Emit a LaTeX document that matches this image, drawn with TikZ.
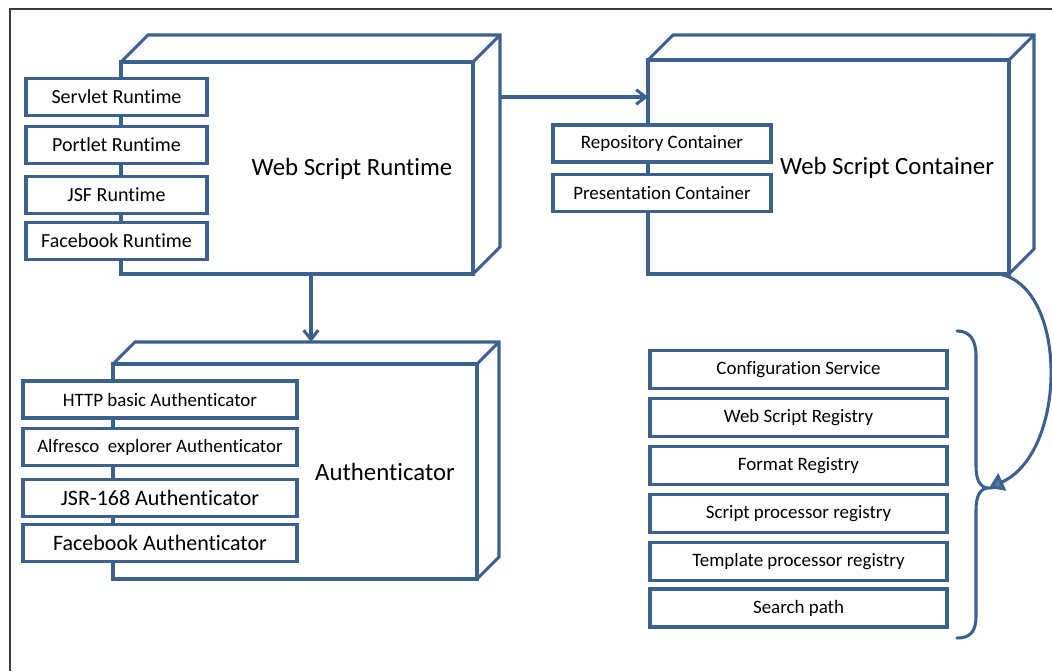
\documentclass[tikz,border=0pt]{standalone}
\usepackage{fontspec}
\setmainfont{Carlito}[RawFeature={-liga;-clig;-calt}]
\usetikzlibrary{arrows.meta}
\definecolor{boxblue}{RGB}{60,97,143}
\definecolor{framegray}{RGB}{60,60,60}
\newcommand\cubebox[6]{% name, x1, y1, x2, y2, depth
  \draw[ln,fill=white] (#2,#3) -- (#2+#6,#3-#6) -- (#4+#6,#3-#6) -- (#4+#6,#5-#6) -- (#4,#5) -- cycle;
  \draw[ln] (#4,#3) -- (#4+#6,#3-#6);
  \node[front,minimum width={(#4-#2)*0.75pt},minimum height={(#5-#3)*0.75pt}] (#1) at ({(#2+#4)/2},{(#3+#5)/2}) {};
}
\begin{document}
\begin{tikzpicture}[x=0.75pt,y=-0.75pt,
  ln/.style={draw=boxblue,line width=2.3pt,line join=miter},
  front/.style={ln,fill=white,inner sep=0pt,outer sep=0pt},
  item/.style={ln,fill=white,inner sep=0pt,outer sep=0pt,minimum height={37*0.75pt},font=\fontsize{14.2}{16}\selectfont},
  rtitem/.style={item,minimum width={181*0.75pt},font=\fontsize{15}{17}\selectfont},
  auitem/.style={item,minimum width={274*0.75pt}},
  aubig/.style={auitem,font=\fontsize{16.5}{18}\selectfont},
  ctitem/.style={item,minimum width={218*0.75pt}},
  rgitem/.style={item,minimum width={297*0.75pt},minimum height={38*0.75pt}},
  biglabel/.style={font=\fontsize{18.6}{20}\selectfont,inner sep=0pt},
  arr/.style={draw=boxblue,line width=2.3pt,-{Straight Barb[length=7pt,width=11pt]}},
]
\useasboundingbox (0,0) rectangle (1052,671);
\draw[framegray,line width=1.5pt] (10,671) -- (10,9) -- (1052,9);

% Web Script Runtime
\cubebox{wsr}{121}{62}{473}{274}{27}
\node[biglabel] (wsrl) at (352,169) {Web Script Runtime};
\node[rtitem] (servlet) at (116.5,97) {Servlet Runtime};
\node[rtitem] (portlet) at (116.5,145) {Portlet Runtime};
\node[rtitem] (jsf) at (116.5,195) {JSF Runtime};
\node[rtitem] (fbrt) at (116.5,241) {Facebook Runtime};

% Web Script Container
\cubebox{wsc}{648}{60}{1009}{274}{25}
\node[biglabel] (wscl) at (887,168) {Web Script Container};
\node[ctitem] (repo) at (662,143.5) {Repository Container};
\node[ctitem] (pres) at (662,193) {Presentation Container};

% Authenticator
\cubebox{auth}{113}{364}{477}{579}{22}
\node[biglabel] (authl) at (385,472) {Authenticator};
\node[auitem] (http) at (160,399.5) {HTTP basic Authenticator};
\node[auitem] (alf) at (160,447) {Alfresco~~explorer Authenticator};
\node[aubig] (jsr) at (160,498) {JSR-168 Authenticator};
\node[aubig] (fbau) at (160,543) {Facebook Authenticator};

% Registry column
\node[rgitem] (conf) at (798.5,369.5) {Configuration Service};
\node[rgitem] (wsreg) at (798.5,417.5) {Web Script Registry};
\node[rgitem] (fmt) at (798.5,465.5) {Format Registry};
\node[rgitem] (spr) at (798.5,513.5) {Script processor registry};
\node[rgitem] (tpr) at (798.5,561.5) {Template processor registry};
\node[rgitem] (search) at (798.5,608) {Search path};

% Brace
\coordinate (brtip) at (989,488);
\draw[ln,line cap=round] (957,331) .. controls (970,331) and (976,340) .. (976,356) -- (976,466)
  .. controls (976,480) and (980,488) .. (brtip)
  .. controls (980,488) and (976,496) .. (976,510) -- (976,616)
  .. controls (976,632) and (970,638) .. (957,638);

% Connectors
\coordinate (a1) at (500,97);
\draw[arr] (a1) -- (wsc.west |- a1);
\coordinate (a2) at (311,342);
\draw[arr] (wsr.south -| a2) -- (a2);
\draw[draw=boxblue,line width=2.3pt,-{Triangle[length=11pt,width=14pt,fill=boxblue!85!white]}]
  ([xshift={-10*0.75pt}]wsc.south east) .. controls (1068,286) and (1068,452) .. (brtip);
\end{tikzpicture}
\end{document}
